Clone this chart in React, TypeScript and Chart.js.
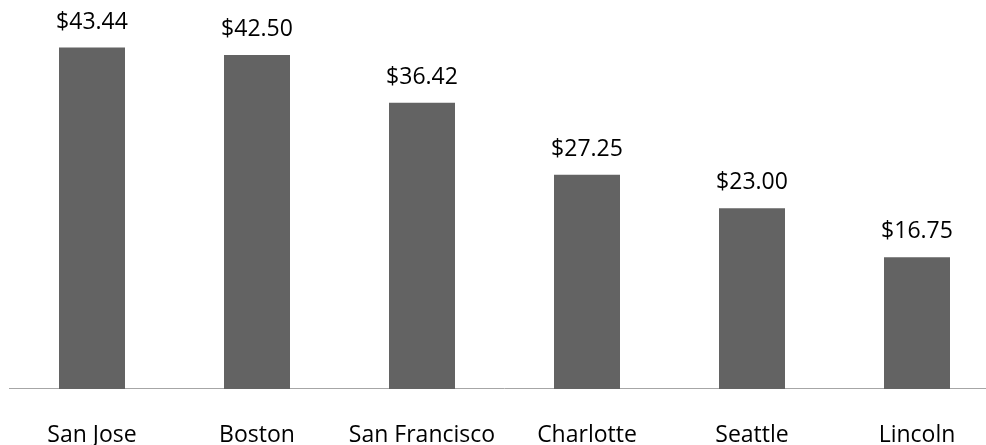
import React, { useEffect, useRef } from "react";
import { Chart, registerables } from "chart.js";

Chart.register(...registerables);

const categories = ["San Jose", "Boston", "San Francisco", "Charlotte", "Seattle", "Lincoln"];
const values = [43.44, 42.5, 36.42, 27.25, 23.0, 16.75];
const yMax = 48;

const FONT = "'Open Sans', sans-serif";

const valueLabels = {
  id: "valueLabels",
  afterDatasetsDraw(chart: any) {
    const ctx = chart.ctx;
    const meta = chart.getDatasetMeta(0);
    ctx.save();
    ctx.fillStyle = "#000000";
    ctx.font = `23px ${FONT}`;
    ctx.textAlign = "center";
    ctx.textBaseline = "alphabetic";
    meta.data.forEach((bar: any, i: number) => {
      const v = chart.data.datasets[0].data[i] as number;
      ctx.fillText("$" + v.toFixed(2), bar.x, bar.y - 19);
    });
    ctx.restore();
  },
};

export default function App() {
  const ref = useRef<HTMLCanvasElement | null>(null);
  useEffect(() => {
    document.body.style.margin = "0";
    document.body.style.overflow = "hidden";
    const chart = new Chart(ref.current as HTMLCanvasElement, {
      type: "bar",
      data: {
        labels: categories,
        datasets: [
          {
            data: values,
            backgroundColor: "#636363",
            borderWidth: 0,
            barPercentage: 0.4,
            categoryPercentage: 1,
          },
        ],
      },
      options: {
        responsive: false,
        animation: false,
        layout: { padding: { top: 11.7, left: 9.5, right: 10.5, bottom: 0.5 } },
        plugins: { legend: { display: false }, tooltip: { enabled: false } },
        scales: {
          x: {
            grid: { display: false },
            border: { display: true, color: "#a6a6a6", width: 1 },
            ticks: {
              color: "#000000",
              padding: 25,
              maxRotation: 0,
              autoSkip: false,
              font: { family: FONT, size: 23, lineHeight: 1.2 },
            },
          },
          y: {
            display: false,
            min: 0,
            max: yMax,
          },
        },
      },
      plugins: [valueLabels],
    });
    return () => chart.destroy();
  }, []);
  return (
    <div style={{ width: 986, height: 445, overflow: "hidden", background: "#ffffff" }}>
      <canvas ref={ref} width={1010} height={475} style={{ display: "block" }} />
    </div>
  );
}
